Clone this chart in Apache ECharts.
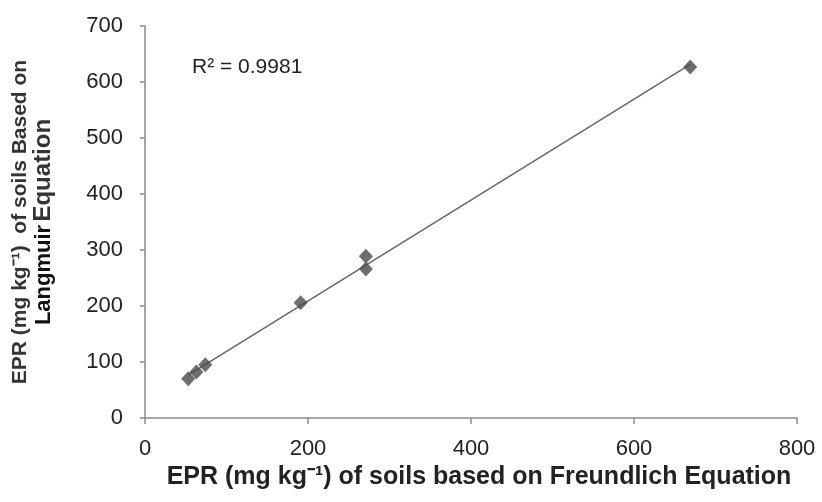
<!DOCTYPE html>
<html>
<head>
<meta charset="utf-8">
<script src="https://cdn.jsdelivr.net/npm/echarts@6/dist/echarts.min.js"></script>
<style>
  html, body { margin: 0; padding: 0; background: #fff; }
  #chart { width: 822px; height: 502px; }
</style>
</head>
<body>
<div id="chart"></div>
<script>
// EPR values
const freundlich = [53, 63, 74, 191, 271, 271, 669]
const langmuir = [70, 82, 95, 206, 266, 289, 627]
const xTicks = [0, 200, 400, 600, 800]
const yTicks = [0, 100, 200, 300, 400, 500, 600, 700]
const r2Label = 'R² = 0.9981'

const points = freundlich.map((x, i) => [x, langmuir[i]])

// least squares line through the points
const fitLine = () => {
  const n = freundlich.length
  const mx = freundlich.reduce((a, b) => a + b, 0) / n
  const my = langmuir.reduce((a, b) => a + b, 0) / n
  let sxy = 0
  let sxx = 0
  freundlich.forEach((x, i) => {
    sxy += (x - mx) * (langmuir[i] - my)
    sxx += (x - mx) * (x - mx)
  })
  const slope = sxy / sxx
  const icpt = my - slope * mx
  const x0 = Math.min(...freundlich)
  const x1 = Math.max(...freundlich)
  return [[x0, icpt + slope * x0], [x1, icpt + slope * x1]]
}

const font = '"Liberation Sans", Arial, sans-serif'
const myChart = echarts.init(document.getElementById('chart'))

const option = {
  animation: false,
  grid: { left: 145, right: 25, top: 26, bottom: 84 },
  xAxis: {
    type: 'value',
    min: xTicks[0],
    max: xTicks[xTicks.length - 1],
    interval: 200,
    splitLine: { show: false },
    axisLine: { lineStyle: { color: '#8a8a8a', width: 1.5 } },
    axisTick: { show: true, length: 6, lineStyle: { color: '#8a8a8a', width: 1.5 } },
    axisLabel: { fontSize: 22, color: '#222', fontFamily: font, margin: 20 },
    name: 'EPR (mg kg⁻¹) of soils based on Freundlich Equation',
    nameLocation: 'middle',
    nameGap: 40,
    nameTextStyle: {
      fontSize: 25,
      fontWeight: 'bold',
      color: '#222',
      fontFamily: font,
      padding: [0, 0, 0, 16],
    },
  },
  yAxis: {
    type: 'value',
    min: yTicks[0],
    max: yTicks[yTicks.length - 1],
    interval: 100,
    splitLine: { show: false },
    axisLine: { show: true, lineStyle: { color: '#8a8a8a', width: 1.5 } },
    axisTick: { show: true, length: 5, lineStyle: { color: '#8a8a8a', width: 1.5 } },
    axisLabel: { fontSize: 22, color: '#222', fontFamily: font, margin: 22 },
    name: '{a|EPR (mg kg⁻¹)  of soils Based on}\n{b|Langmuir} {c|Equation}',
    nameLocation: 'middle',
    nameRotate: 90,
    nameGap: 90,
    nameTextStyle: {
      fontFamily: font,
      color: '#222',
      rich: {
        a: { fontSize: 21, fontWeight: 'bold', color: '#333', fontFamily: font, lineHeight: 23 },
        b: { fontSize: 22, fontWeight: 'bold', color: '#111', fontFamily: font, lineHeight: 23 },
        c: { fontSize: 24, fontWeight: 'bold', color: '#333', fontFamily: font, lineHeight: 23 },
      },
    },
  },
  graphic: [
    {
      type: 'text',
      left: 192,
      top: 57,
      style: { text: r2Label, fontSize: 21, fill: '#222', fontFamily: font },
    },
  ],
  series: [
    {
      type: 'line',
      data: fitLine(),
      symbol: 'none',
      silent: true,
      lineStyle: { color: '#666', width: 1.5 },
      z: 1,
    },
    {
      type: 'scatter',
      data: points,
      symbol: 'diamond',
      symbolSize: [14, 15],
      itemStyle: { color: '#4a4a4a' },
      z: 2,
    },
  ],
}
myChart.setOption(option)
</script>
</body>
</html>
